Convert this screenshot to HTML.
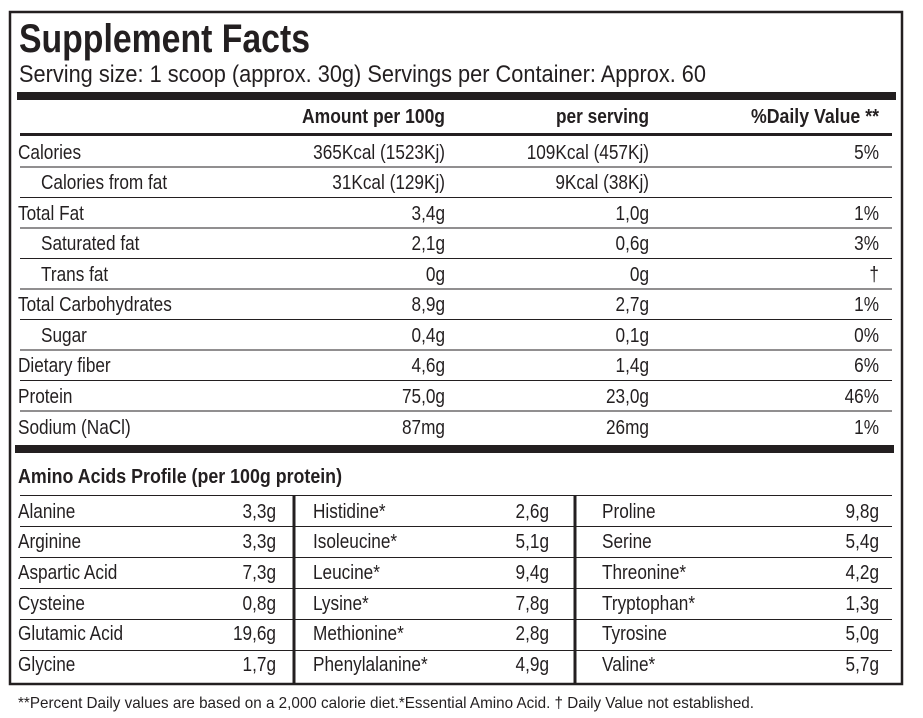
<!DOCTYPE html>
<html><head><meta charset="utf-8"><style>
html,body{margin:0;padding:0;background:#fff;}
svg{display:block;}
text{font-family:"Liberation Sans Narrow","Liberation Sans",sans-serif;fill:#231f20;}
.b{font-weight:bold;}
.r{text-anchor:end;}
</style></head><body>
<svg width="923" height="718" viewBox="0 0 923 718" xmlns="http://www.w3.org/2000/svg">
<rect x="10" y="12" width="892" height="672" fill="none" stroke="#231f20" stroke-width="2.5"/>
<text x="19" y="52" font-size="40" class="b" textLength="291" lengthAdjust="spacingAndGlyphs">Supplement Facts</text>
<text x="19" y="82" font-size="24" textLength="687" lengthAdjust="spacingAndGlyphs">Serving size: 1 scoop (approx. 30g) Servings per Container: Approx. 60</text>
<rect x="17" y="92" width="879" height="8" fill="#231f20"/>
<g font-size="20" class="b">
<text x="445" y="123" class="r b" textLength="143" lengthAdjust="spacingAndGlyphs">Amount per 100g</text>
<text x="649" y="123" class="r b" textLength="93" lengthAdjust="spacingAndGlyphs">per serving</text>
<text x="879" y="123" class="r b" textLength="128" lengthAdjust="spacingAndGlyphs">%Daily Value **</text>
</g>
<rect x="20" y="133" width="872" height="3" fill="#231f20"/>
<g fill="#231f20">
<rect x="20" y="166.5" width="872" height="1"/>
<rect x="20" y="197" width="872" height="1"/>
<rect x="20" y="227.5" width="872" height="1"/>
<rect x="20" y="258" width="872" height="1"/>
<rect x="20" y="288.5" width="872" height="1"/>
<rect x="20" y="319" width="872" height="1"/>
<rect x="20" y="349.5" width="872" height="1"/>
<rect x="20" y="380" width="872" height="1"/>
<rect x="20" y="410.5" width="872" height="1"/>
<rect x="15" y="445" width="879" height="8"/>
</g>
<g font-size="20">
<text transform="translate(18 159) scale(.86 1)">Calories</text><text class="r" transform="translate(445 159) scale(.86 1)">365Kcal (1523Kj)</text><text class="r" transform="translate(649 159) scale(.86 1)">109Kcal (457Kj)</text><text class="r" transform="translate(879 159) scale(.86 1)">5%</text>
<text transform="translate(41 189) scale(.86 1)">Calories from fat</text><text class="r" transform="translate(445 189) scale(.86 1)">31Kcal (129Kj)</text><text class="r" transform="translate(649 189) scale(.86 1)">9Kcal (38Kj)</text>
<text transform="translate(18 220) scale(.86 1)">Total Fat</text><text class="r" transform="translate(445 220) scale(.86 1)">3,4g</text><text class="r" transform="translate(649 220) scale(.86 1)">1,0g</text><text class="r" transform="translate(879 220) scale(.86 1)">1%</text>
<text transform="translate(41 250) scale(.86 1)">Saturated fat</text><text class="r" transform="translate(445 250) scale(.86 1)">2,1g</text><text class="r" transform="translate(649 250) scale(.86 1)">0,6g</text><text class="r" transform="translate(879 250) scale(.86 1)">3%</text>
<text transform="translate(41 281) scale(.86 1)">Trans fat</text><text class="r" transform="translate(445 281) scale(.86 1)">0g</text><text class="r" transform="translate(649 281) scale(.86 1)">0g</text><text class="r" transform="translate(879 281) scale(.86 1)">†</text>
<text transform="translate(18 311) scale(.86 1)">Total Carbohydrates</text><text class="r" transform="translate(445 311) scale(.86 1)">8,9g</text><text class="r" transform="translate(649 311) scale(.86 1)">2,7g</text><text class="r" transform="translate(879 311) scale(.86 1)">1%</text>
<text transform="translate(41 342) scale(.86 1)">Sugar</text><text class="r" transform="translate(445 342) scale(.86 1)">0,4g</text><text class="r" transform="translate(649 342) scale(.86 1)">0,1g</text><text class="r" transform="translate(879 342) scale(.86 1)">0%</text>
<text transform="translate(18 372) scale(.86 1)">Dietary fiber</text><text class="r" transform="translate(445 372) scale(.86 1)">4,6g</text><text class="r" transform="translate(649 372) scale(.86 1)">1,4g</text><text class="r" transform="translate(879 372) scale(.86 1)">6%</text>
<text transform="translate(18 403) scale(.86 1)">Protein</text><text class="r" transform="translate(445 403) scale(.86 1)">75,0g</text><text class="r" transform="translate(649 403) scale(.86 1)">23,0g</text><text class="r" transform="translate(879 403) scale(.86 1)">46%</text>
<text transform="translate(18 434) scale(.86 1)">Sodium (NaCl)</text><text class="r" transform="translate(445 434) scale(.86 1)">87mg</text><text class="r" transform="translate(649 434) scale(.86 1)">26mg</text><text class="r" transform="translate(879 434) scale(.86 1)">1%</text>
</g>
<text x="18" y="483" font-size="20" class="b" textLength="324" lengthAdjust="spacingAndGlyphs">Amino Acids Profile (per 100g protein)</text>
<g fill="#231f20">
<rect x="20" y="495" width="872" height="1"/>
<rect x="20" y="526" width="872" height="1"/>
<rect x="20" y="557" width="872" height="1"/>
<rect x="20" y="588" width="872" height="1"/>
<rect x="20" y="619" width="872" height="1"/>
<rect x="20" y="650" width="872" height="1"/>
<rect x="292.5" y="495" width="3" height="189"/>
<rect x="573.5" y="495" width="3" height="189"/>
</g>
<g font-size="20">
<text transform="translate(18 518) scale(.86 1)">Alanine</text><text class="r" transform="translate(276 518) scale(.86 1)">3,3g</text>
<text transform="translate(18 548) scale(.86 1)">Arginine</text><text class="r" transform="translate(276 548) scale(.86 1)">3,3g</text>
<text transform="translate(18 579) scale(.86 1)">Aspartic Acid</text><text class="r" transform="translate(276 579) scale(.86 1)">7,3g</text>
<text transform="translate(18 610) scale(.86 1)">Cysteine</text><text class="r" transform="translate(276 610) scale(.86 1)">0,8g</text>
<text transform="translate(18 640) scale(.86 1)">Glutamic Acid</text><text class="r" transform="translate(276 640) scale(.86 1)">19,6g</text>
<text transform="translate(18 671) scale(.86 1)">Glycine</text><text class="r" transform="translate(276 671) scale(.86 1)">1,7g</text>
<text transform="translate(313 518) scale(.86 1)">Histidine*</text><text class="r" transform="translate(549 518) scale(.86 1)">2,6g</text>
<text transform="translate(313 548) scale(.86 1)">Isoleucine*</text><text class="r" transform="translate(549 548) scale(.86 1)">5,1g</text>
<text transform="translate(313 579) scale(.86 1)">Leucine*</text><text class="r" transform="translate(549 579) scale(.86 1)">9,4g</text>
<text transform="translate(313 610) scale(.86 1)">Lysine*</text><text class="r" transform="translate(549 610) scale(.86 1)">7,8g</text>
<text transform="translate(313 640) scale(.86 1)">Methionine*</text><text class="r" transform="translate(549 640) scale(.86 1)">2,8g</text>
<text transform="translate(313 671) scale(.86 1)">Phenylalanine*</text><text class="r" transform="translate(549 671) scale(.86 1)">4,9g</text>
<text transform="translate(602 518) scale(.86 1)">Proline</text><text class="r" transform="translate(879 518) scale(.86 1)">9,8g</text>
<text transform="translate(602 548) scale(.86 1)">Serine</text><text class="r" transform="translate(879 548) scale(.86 1)">5,4g</text>
<text transform="translate(602 579) scale(.86 1)">Threonine*</text><text class="r" transform="translate(879 579) scale(.86 1)">4,2g</text>
<text transform="translate(602 610) scale(.86 1)">Tryptophan*</text><text class="r" transform="translate(879 610) scale(.86 1)">1,3g</text>
<text transform="translate(602 640) scale(.86 1)">Tyrosine</text><text class="r" transform="translate(879 640) scale(.86 1)">5,0g</text>
<text transform="translate(602 671) scale(.86 1)">Valine*</text><text class="r" transform="translate(879 671) scale(.86 1)">5,7g</text>
</g>
<text x="18" y="708" font-size="16" textLength="736" lengthAdjust="spacingAndGlyphs">**Percent Daily values are based on a 2,000 calorie diet.*Essential Amino Acid. † Daily Value not established.</text>
</svg>
</body></html>
